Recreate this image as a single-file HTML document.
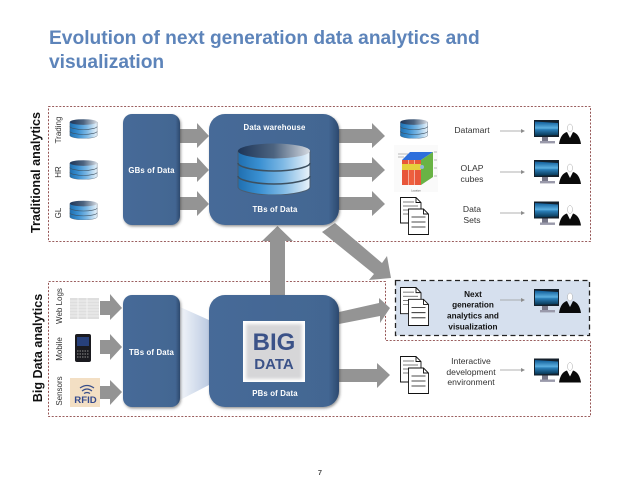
<!DOCTYPE html>
<html><head><meta charset="utf-8">
<style>
html,body{margin:0;padding:0;background:#fff;width:638px;height:493px;overflow:hidden}
svg{display:block;filter:blur(.3px)}
text{font-family:"Liberation Sans",sans-serif}
</style></head><body>
<svg width="638" height="493" viewBox="0 0 638 493" xmlns="http://www.w3.org/2000/svg">
<defs>
<linearGradient id="box" x1="0" x2="1" y1="0" y2="0"><stop offset="0" stop-color="#466a98"/><stop offset=".92" stop-color="#436692"/><stop offset="1" stop-color="#2c496e"/></linearGradient>
<linearGradient id="body" x1="0" x2="1" y1="0" y2="0"><stop offset="0" stop-color="#1f6fb0"/><stop offset=".3" stop-color="#3a90d2"/><stop offset=".62" stop-color="#7db8e4"/><stop offset="1" stop-color="#eaf3fa"/></linearGradient>
<linearGradient id="top" x1="0" x2="1" y1="0" y2="0"><stop offset="0" stop-color="#1d3558"/><stop offset=".5" stop-color="#4d6480"/><stop offset="1" stop-color="#d4d9e0"/></linearGradient>
<linearGradient id="fan" x1="0" x2="1" y1="0" y2="0"><stop offset="0" stop-color="#f2f5fa"/><stop offset="1" stop-color="#bccbe2"/></linearGradient>
<linearGradient id="scr" x1="0" x2="0" y1="0" y2="1"><stop offset="0" stop-color="#0d5a96"/><stop offset=".45" stop-color="#5cb0e0"/><stop offset=".55" stop-color="#2b7fb8"/><stop offset="1" stop-color="#06324f"/></linearGradient>
<filter id="sh" x="-10%" y="-10%" width="125%" height="125%"><feDropShadow dx="1" dy="1.5" stdDeviation="1.2" flood-color="#333" flood-opacity=".5"/></filter>
<filter id="soft"><feGaussianBlur stdDeviation="1.6"/></filter>
<symbol id="db" viewBox="0 0 74 52" preserveAspectRatio="none">
<path d="M1 8V44C1 48 18 52 37 52S73 48 73 44V8Z" fill="url(#body)" stroke="#4b5d70" stroke-width="1"/>
<path d="M1 20C1 24 18 28 37 28S73 24 73 20M1 33C1 37 18 41 37 41S73 37 73 33" fill="none" stroke="#3d5060" stroke-width="1.6"/>
<ellipse cx="37" cy="8" rx="36" ry="7.5" fill="url(#top)"/>
</symbol>
<symbol id="doc" viewBox="0 0 29 38" preserveAspectRatio="none">
<g fill="#fff" stroke="#111" stroke-width=".9">
<path d="M.5 .5H16L21 5.5V26H.5Z"/><path d="M16 .5V5.5H21" fill="none"/>
<path d="M3 5H14M3 9H18M3 13H18M3 17H18" stroke="#555" stroke-width=".7" fill="none"/>
<path d="M8.5 12H23.5L28.5 17V37.5H8.5Z"/><path d="M23.5 12V17H28.5" fill="none"/>
<path d="M11.5 20H25.5M11.5 25H25.5M11.5 30H25.5" stroke-width=".8" fill="none"/>
</g>
</symbol>
<symbol id="user" viewBox="0 0 47 24" preserveAspectRatio="none">
<rect x="0" y="0" width="25" height="17" fill="#15202b"/>
<path d="M1 1.5L24 3V15L1 16Z" fill="url(#scr)"/>
<rect x="8" y="17" width="6" height="4" fill="#778"/>
<rect x="6" y="21" width="15" height="2.4" fill="#99a"/>
<ellipse cx="36" cy="8" rx="2.5" ry="4" fill="#fff" stroke="#aaa" stroke-width=".5"/>
<path d="M25 24C26 17 29 13 33 12L36 18L39 12C43 13 46 17 47 24Z" fill="#0a0a0a"/>
</symbol>
</defs>

<text x="49" y="44" font-size="19.2" font-weight="700" fill="#5d84ba">Evolution of next generation data analytics and</text>
<text x="49" y="68" font-size="19.2" font-weight="700" fill="#5d84ba">visualization</text>

<rect x="48.5" y="106.5" width="542" height="135" fill="none" stroke="#7a2a2a" stroke-width=".8" stroke-dasharray="2 1.6"/>
<path d="M385.5 281.5H48.5V416.5H590.5V340.5H385.5Z" fill="none" stroke="#7a2a2a" stroke-width=".8" stroke-dasharray="2 1.6"/>

<!-- Side labels -->
<text transform="translate(40,172.5) rotate(-90)" text-anchor="middle" font-size="12.6" font-weight="700" fill="#111">Traditional analytics</text>
<text transform="translate(42,348) rotate(-90)" text-anchor="middle" font-size="12.6" font-weight="700" fill="#111">Big Data analytics</text>
<g font-size="8" fill="#333" text-anchor="middle">
<text transform="translate(61,130) rotate(-90)">Trading</text>
<text transform="translate(61,172) rotate(-90)">HR</text>
<text transform="translate(61,213) rotate(-90)">GL</text>
<text transform="translate(62,306) rotate(-90)">Web Logs</text>
<text transform="translate(62,349) rotate(-90)">Mobile</text>
<text transform="translate(62,391) rotate(-90)">Sensors</text>
</g>

<!-- DBs -->
<use href="#db" x="69.5" y="119" width="28" height="19.5"/>
<use href="#db" x="69.5" y="160" width="28" height="19.5"/>
<use href="#db" x="69.5" y="200.5" width="28" height="19.5"/>
<use href="#db" x="400" y="119" width="28" height="19.5"/>

<!-- grey arrows -->
<g fill="#949494">
<path d="M180 129H197V123L209 136L197 148V143H180Z"/>
<path d="M180 163H197V157L209 170L197 182V177H180Z"/>
<path d="M180 197H197V191L209 204L197 216V210H180Z"/>
<path d="M339 129H372V123L385 136L372 148V143H339Z"/>
<path d="M339 163H372V157L385 170L372 182V177H339Z"/>
<path d="M339 197H372V191L385 204L372 216V210H339Z"/>
<path d="M270 296V241H262L277.5 226L293 241H285V296Z"/>
<path d="M335 223L382 263L387 256L391 278L369 280L374 274L322 232Z"/>
<path d="M339 312L379 303V298L390 308L380 323V316L339 324Z"/>
<path d="M339 369H377V363L390 375L377 388V382H339Z"/>
<path d="M100 301H110V294L122 308L110 320V315H100Z"/>
<path d="M100 340H110V334L122 347L110 360V354H100Z"/>
<path d="M100 386H110V380L122 392L110 405V399H100Z"/>
</g>

<!-- fan -->
<path d="M180 307L209 320V385L180 400Z" fill="url(#fan)"/>

<!-- Boxes -->
<g filter="url(#sh)">
<rect x="123" y="114" width="57" height="111" rx="9" fill="url(#box)"/>
<rect x="209" y="114" width="130" height="111" rx="16" fill="url(#box)"/>
<rect x="123" y="295" width="57" height="112" rx="9" fill="url(#box)"/>
<rect x="209" y="295" width="130" height="112" rx="16" fill="url(#box)"/>
</g>
<use href="#db" x="237" y="143" width="74" height="52"/>
<g font-size="7.8" font-weight="700" fill="#fff" text-anchor="middle" letter-spacing=".15">
<text x="151.5" y="173">GBs of Data</text>
<text x="274.5" y="130">Data warehouse</text>
<text x="275" y="212">TBs of Data</text>
<text x="151.5" y="355">TBs of Data</text>
<text x="275" y="396">PBs of Data</text>
</g>

<!-- Big data -->
<rect x="243" y="321" width="62" height="61" fill="#fff"/>
<rect x="246" y="324" width="56" height="55" fill="#d6d6d8" filter="url(#soft)"/>
<text x="274" y="350" font-size="24" font-weight="700" fill="#3b5288" text-anchor="middle">BIG</text>
<text x="274" y="369" font-size="15" font-weight="700" fill="#3b5288" text-anchor="middle">DATA</text>

<!-- next gen box -->
<rect x="395.5" y="280.5" width="194" height="55" fill="#d6e0ee" stroke="#222" stroke-width="1.3" stroke-dasharray="5 3.5"/>

<!-- docs -->
<use href="#doc" x="400" y="197" width="29" height="38"/>
<use href="#doc" x="400" y="287" width="29" height="39"/>
<use href="#doc" x="400" y="356" width="29" height="38"/>

<!-- OLAP -->
<g>
<rect x="394" y="145" width="44" height="47" fill="#fafafa"/>
<path d="M402 160L421 160L433 152L410 152Z" fill="#2e6fdc"/>
<rect x="402" y="160" width="6" height="25" fill="#e8563a"/><rect x="408.5" y="160" width="6" height="25" fill="#ee5f3e"/><rect x="415" y="160" width="6" height="25" fill="#e8563a"/>
<rect x="402" y="164" width="19" height="6" fill="#e6cf3c"/>
<path d="M421 160L433 152V177L421 185Z" fill="#69b345"/>
<circle cx="422" cy="167" r="2" fill="#8fb8dc"/>
<path d="M398 154H408M398 157H404M434 152H437M434 160H437M434 168H437M434 176H437" stroke="#777" stroke-width=".6"/>
<text x="416" y="191.5" font-size="2.5" fill="#555" text-anchor="middle">Location</text>
</g>

<!-- thin arrows -->
<g stroke="#999" stroke-width=".8">
<path d="M500 131H522M500 172H522M500 213H522M500 300H522M500 370H522" fill="none"/>
</g>
<g fill="#8c8c8c">
<path d="M521 129L525 131L521 133Z"/><path d="M521 170L525 172L521 174Z"/><path d="M521 211L525 213L521 215Z"/><path d="M521 298L525 300L521 302Z"/><path d="M521 368L525 370L521 372Z"/>
</g>

<!-- users -->
<use href="#user" x="534" y="120" width="47" height="24"/>
<use href="#user" x="534" y="160" width="47" height="24"/>
<use href="#user" x="534" y="201.5" width="47" height="24"/>
<use href="#user" x="534" y="289" width="47" height="24"/>
<use href="#user" x="534" y="358.5" width="47" height="24"/>

<!-- labels -->
<g font-size="8.6" fill="#333" text-anchor="middle">
<text x="472" y="133">Datamart</text>
<text x="472" y="171">OLAP</text><text x="472" y="182">cubes</text>
<text x="472" y="212">Data</text><text x="472" y="223">Sets</text>
<text x="471" y="364">Interactive</text><text x="471" y="375">development</text><text x="471" y="385">environment</text>
</g>
<g font-size="8.2" font-weight="700" fill="#111" text-anchor="middle">
<text x="473" y="297">Next</text><text x="473" y="307.5">generation</text><text x="473" y="318.5">analytics and</text><text x="473" y="329.5">visualization</text>
</g>

<!-- Web logs -->
<rect x="70" y="298" width="29" height="21" fill="#dedede"/>
<path d="M70 301H99M70 304H99M70 307H99M70 310H99M70 313H99M70 316H99M78 298V319M87 298V319" stroke="#f5f5f5" stroke-width=".8"/>
<!-- phone -->
<rect x="75" y="334" width="16" height="28" rx="2" fill="#1a1a1f"/>
<rect x="77" y="337" width="12" height="9" fill="#27407a"/>
<path d="M77 351H89M77 354H89M77 357H89" stroke="#777" stroke-width="1.2" stroke-dasharray="1.5 1"/>
<!-- RFID -->
<rect x="70" y="378" width="30" height="29" fill="#f3dfc4"/>
<path d="M80 388Q87 383 94 388M82 391Q87 387 92 391M84 393.5Q87 391.5 90 393.5" fill="none" stroke="#3a4f8a" stroke-width="1.2"/>
<text x="85.5" y="403" font-size="9.6" font-weight="700" fill="#33488c" text-anchor="middle">RFID</text>

<text x="320" y="475" font-size="7.5" font-weight="700" fill="#555" text-anchor="middle">7</text>
</svg>
</body></html>
